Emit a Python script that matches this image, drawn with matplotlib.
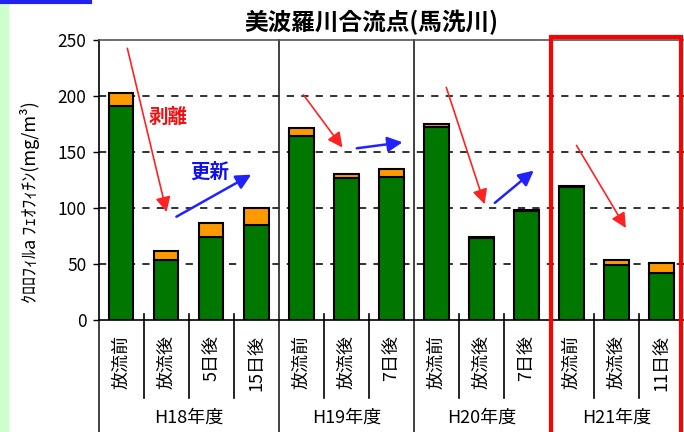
import numpy as np
import matplotlib.pyplot as plt
import matplotlib.transforms as mtransforms
from matplotlib.patches import Rectangle

plt.rcParams['font.family'] = ['Noto Sans CJK JP', 'DejaVu Sans']

# data
labels = ["放流前", "放流後", "5日後", "15日後",
          "放流前", "放流後", "7日後",
          "放流前", "放流後", "7日後",
          "放流前", "放流後", "11日後"]
chl_a = [191, 54, 74, 85, 164, 127, 128, 172, 73, 97, 119, 49, 42]
pheo = [12, 8, 13, 15, 7, 3, 7, 3, 1, 1, 1, 5, 9]
groups = ["H18年度", "H19年度", "H20年度", "H21年度"]
group_size = [4, 3, 3, 3]

# annotation arrows (start, end) in data units
red_arrows = [((0.12, 245), (1.02, 94)), ((4.01, 203), (4.95, 152)),
              ((7.2, 210), (8.09, 101)), ((10.08, 158), (11.24, 80))]
blue_arrows = [((1.17, 91), (2.94, 131)), ((5.17, 153), (6.31, 159)),
               ((8.25, 103), (9.21, 135))]

W, H = 684, 432
fig = plt.figure(figsize=(W / 100, H / 100), dpi=100)
fig.patches.append(Rectangle((0, 0), 8 / W, 1, transform=fig.transFigure,
                             color="#ccffcc", zorder=0))
fig.add_artist(plt.Line2D([0, 90 / W], [1 - 1.5 / H, 1 - 1.5 / H],
                          color="#2222ee", lw=3, transform=fig.transFigure))

ax = fig.add_axes([98.8 / W, 1 - 320 / H, (W - 98.8) / W, 280 / H])
x = np.arange(len(labels))
ax.bar(x, chl_a, width=0.54, color="#007800", edgecolor="black", lw=1.5, zorder=3)
ax.bar(x, pheo, width=0.54, bottom=chl_a, color="#ff9900", edgecolor="black",
       lw=1.5, zorder=3)

ax.set_xlim(-0.5, len(labels) - 0.5)
ax.set_ylim(0, 250)
ax.set_yticks(range(0, 251, 50))
for v in range(50, 250, 50):
    ax.axhline(v, color="#222222", lw=1.3, ls=(0, (4, 4)), zorder=1)
ax.tick_params(axis="y", direction="out", length=4, width=1, labelsize=12.5, pad=5)
ax.tick_params(axis="x", bottom=False, labelbottom=False)
for s in ["left", "bottom", "top"]:
    ax.spines[s].set_linewidth(1.2)
ax.spines["top"].set_color("#555555")
ax.spines["right"].set_visible(False)

trans = mtransforms.blended_transform_factory(ax.transData, ax.transAxes)
bounds = np.cumsum([0] + group_size) - 0.5
for b in np.arange(0.5, len(labels) - 0.5):
    if b in bounds:
        continue
    ax.plot([b, b], [0.02, -0.279], color="black", lw=1.2, transform=trans,
            clip_on=False)
for b in bounds[:-2]:
    top = 1 if b > 0 else 0
    ax.plot([b, b], [top, -0.42], color="#333333", lw=1.3, transform=trans,
            clip_on=False)

for i, lab in enumerate(labels):
    ax.text(i, -0.055, lab, rotation=90, ha="center", va="top", fontsize=13,
            transform=trans)
for g, lo, hi in zip(groups, bounds[:-1], bounds[1:]):
    ax.text((lo + hi) / 2, -0.35, g, ha="center", va="center", fontsize=13,
            transform=trans)

for (s, e) in red_arrows:
    ax.annotate("", xy=e, xytext=s, zorder=5,
                arrowprops=dict(arrowstyle="-|>,head_length=0.9,head_width=0.45",
                                color="#ff2222", lw=1.2))
for (s, e) in blue_arrows:
    ax.annotate("", xy=e, xytext=s, zorder=5,
                arrowprops=dict(arrowstyle="-|>,head_length=0.9,head_width=0.45",
                                color="#2222ff", lw=1.8))
ax.text(1.04, 181, "剥離", color="#ee1111", fontsize=14, fontweight="bold",
        ha="center", va="center")
ax.text(1.96, 132, "更新", color="#1111ee", fontsize=14, fontweight="bold",
        ha="center", va="center")

fig.add_artist(Rectangle((551 / W, -0.01), 130 / W, 1 - 37 / H + 0.01,
                         transform=fig.transFigure, fill=False,
                         edgecolor="#ff0000", lw=3, zorder=6))

fig.text(371 / W, 1 - 22 / H, "美波羅川合流点(馬洗川)", ha="center", va="center",
         fontsize=17, fontweight="bold")
fig.text(30 / W, 1 - 202 / H, "ｸﾛﾛﾌｨﾙa ﾌｪｵﾌｨﾁﾝ(mg/m³)", rotation=90,
         ha="center", va="center", fontsize=13)

fig.savefig("out.png", dpi=100)
